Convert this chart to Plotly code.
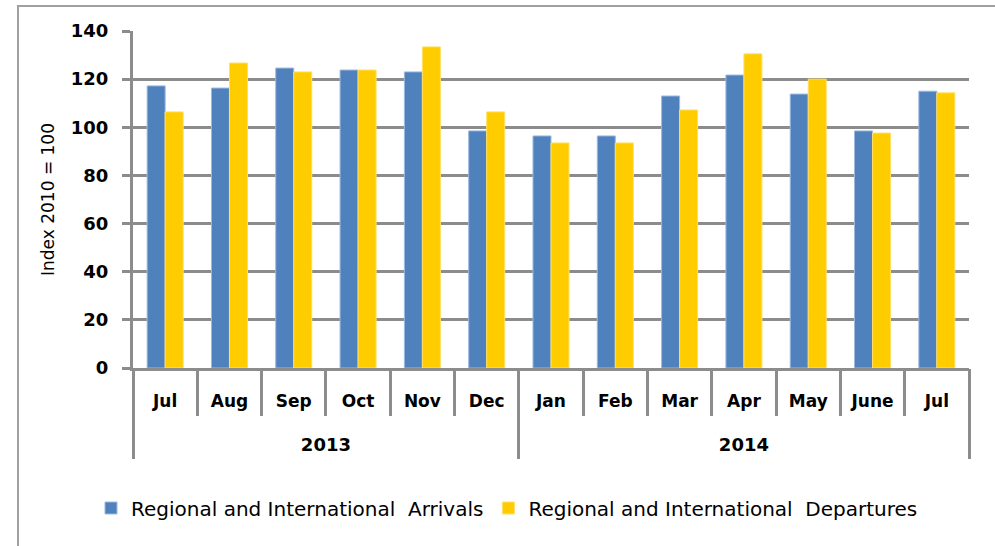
import plotly.graph_objects as go

months = ["Jul", "Aug", "Sep", "Oct", "Nov", "Dec", "Jan", "Feb", "Mar", "Apr", "May", "June", "Jul"]
years = ["2013", "2014"]
year_spans = [6, 7]  # number of months in each year group
arrivals = [117.2, 116.3, 124.6, 123.8, 123.0, 98.5, 96.4, 96.4, 113.0, 121.7, 113.8, 98.5, 115.0]
departures = [106.4, 126.7, 123.0, 123.8, 133.4, 106.4, 93.5, 93.5, 107.2, 130.5, 120.0, 97.6, 114.3]
y_ticks = [0, 20, 40, 60, 80, 100, 120, 140]

idx = list(range(len(months)))
# year group boundaries / centres in index units
bounds = [-0.5]
centres = []
start = 0
for n in year_spans:
    centres.append(start + (n - 1) / 2)
    start += n
    bounds.append(start - 0.5)
month_bounds = [i - 0.5 for i in range(len(months) + 1)]

GRAY = "#8C8C8C"
FONT = "DejaVu Sans, Verdana, sans-serif"

fig = go.Figure()
fig.add_trace(go.Bar(x=idx, y=arrivals, name="Regional and International  Arrivals",
                     marker=dict(color="#4F81BD", line=dict(color="#9DB9DE", width=1))))
fig.add_trace(go.Bar(x=idx, y=departures, name="Regional and International  Departures",
                     marker=dict(color="#FFCC00", line=dict(color="#FFE066", width=1))))
# invisible trace to bind the year axis
fig.add_trace(go.Scatter(x=[bounds[0], bounds[-1]], y=[0, 0], xaxis="x2", mode="none",
                         showlegend=False, hoverinfo="skip"))

W, H = 995, 546
L, R, T, B = 133, 969, 31, 368
xr = [bounds[0], bounds[-1]]

fig.update_layout(
    width=W, height=H,
    margin=dict(l=L, r=W - R, t=T, b=H - B),
    paper_bgcolor="white", plot_bgcolor="white",
    font=dict(family=FONT, color="black"),
    barmode="group", bargap=0.44, bargroupgap=0.0,
    legend=dict(orientation="h", x=(507 - L) / (R - L), xanchor="center",
                y=(B - 508) / (B - T), yanchor="middle",
                font=dict(size=20), traceorder="normal"),
    xaxis=dict(range=xr, tickmode="array", tickvals=idx, ticktext=months, ticks="",
               tickfont=dict(size=17, weight="bold"), ticklabelstandoff=16,
               showline=True, linecolor=GRAY, linewidth=3, showgrid=False, zeroline=False,
               minor=dict(tickmode="array", tickvals=month_bounds, ticks="outside",
                          ticklen=45, tickwidth=3, tickcolor=GRAY, showgrid=False)),
    xaxis2=dict(range=xr, overlaying="x", anchor="y", side="bottom",
                tickmode="array", tickvals=centres, ticktext=years, ticks="",
                tickfont=dict(size=18, weight="bold"), ticklabelstandoff=64,
                showline=False, showgrid=False, zeroline=False,
                minor=dict(tickmode="array", tickvals=bounds, ticks="outside",
                           ticklen=90, tickwidth=3, tickcolor=GRAY, showgrid=False)),
    yaxis=dict(range=[0, 140], tickmode="array", tickvals=y_ticks, showgrid=True,
               gridcolor=GRAY, gridwidth=3, showline=True, linecolor=GRAY, linewidth=3,
               ticks="outside", ticklen=8, tickcolor=GRAY, tickwidth=3, ticklabelstandoff=10,
               tickfont=dict(size=18, weight="bold"), zeroline=False,
               title=dict(text="Index 2010 = 100", font=dict(size=17), standoff=12)),
)

fig.add_shape(type="rect", xref="paper", yref="paper",
              x0=(18 - L) / (R - L), x1=1.2, y0=-1.0, y1=(B - 6) / (B - T),
              line=dict(color="#A0A0A0", width=2), fillcolor="rgba(0,0,0,0)", layer="below")

fig.write_html("out.html", config={"displayModeBar": False},
               post_script="document.body.style.margin='0';")
